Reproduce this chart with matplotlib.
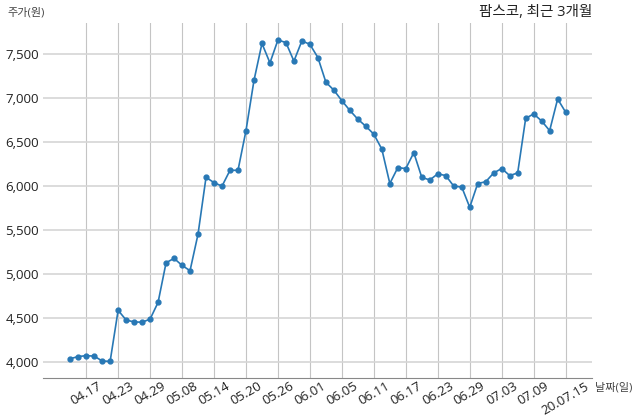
import matplotlib
matplotlib.use('Agg')
import matplotlib.pyplot as plt
from matplotlib.ticker import FuncFormatter

plt.rcParams['font.family'] = ['Open Sans', 'Noto Sans CJK KR', 'DejaVu Sans']

# 종가 (원), 최근 3개월 거래일
prices = [4040, 4065, 4075, 4070, 4015, 4010, 4590, 4480, 4458, 4455,
          4490, 4680, 5130, 5180, 5100, 5040, 5455, 6100, 6040, 6000,
          6180, 6180, 6630, 7200, 7620, 7400, 7660, 7630, 7420, 7650,
          7610, 7460, 7180, 7090, 6970, 6860, 6760, 6680, 6590, 6420,
          6030, 6210, 6200, 6380, 6100, 6070, 6140, 6120, 6000, 5990,
          5760, 6030, 6050, 6150, 6200, 6120, 6150, 6770, 6820, 6740,
          6630, 6990, 6840]
tick_idx = list(range(2, 63, 4))
tick_labels = ['04.17', '04.23', '04.29', '05.08', '05.14', '05.20', '05.26', '06.01',
               '06.05', '06.11', '06.17', '06.23', '06.29', '07.03', '07.09', '20.07.15']
y_ticks = [4000, 4500, 5000, 5500, 6000, 6500, 7000, 7500]

fig = plt.figure(figsize=(6.4, 4.19), dpi=100)
ax = fig.add_axes([43/640, 1 - 378.3/419, (592 - 43)/640, (378.3 - 22.7)/419])

x = list(range(len(prices)))
ax.plot(x, prices, '-o', color='#2878b5', linewidth=1.2, markersize=3.5)

ax.set_xlim(-3.4, 65.3)
ax.set_ylim(3818, 7856)
ax.set_xticks(tick_idx)
ax.set_xticklabels(tick_labels, rotation=30, ha='center')
ax.set_yticks(y_ticks)
ax.yaxis.set_major_formatter(FuncFormatter(lambda v, p: f'{int(v):,}'))
ax.tick_params(axis='both', length=0, labelsize=9.5, colors='#222222')
ax.tick_params(axis='y', pad=3)
ax.tick_params(axis='x', pad=1)

ax.grid(axis='x', color='#c4c4c4', linewidth=0.8)
ax.grid(axis='y', color='#d6d6d6', linewidth=1.2)
ax.set_axisbelow(True)
for s in ['top', 'right', 'left']:
    ax.spines[s].set_visible(False)
ax.spines['bottom'].set_color('#888888')
ax.spines['bottom'].set_linewidth(0.8)

ax.set_title('팜스코, 최근 3개월', loc='right', fontsize=10.5, pad=5, color='#222222')
fig.text(7/640, 1 - 13/419, '주가(원)', fontsize=8, va='center', ha='left', color='#444444')
fig.text(595/640, 1 - 388/419, '날짜(일)', fontsize=8, va='center', ha='left', color='#444444')

fig.savefig('out.png', dpi=100)
